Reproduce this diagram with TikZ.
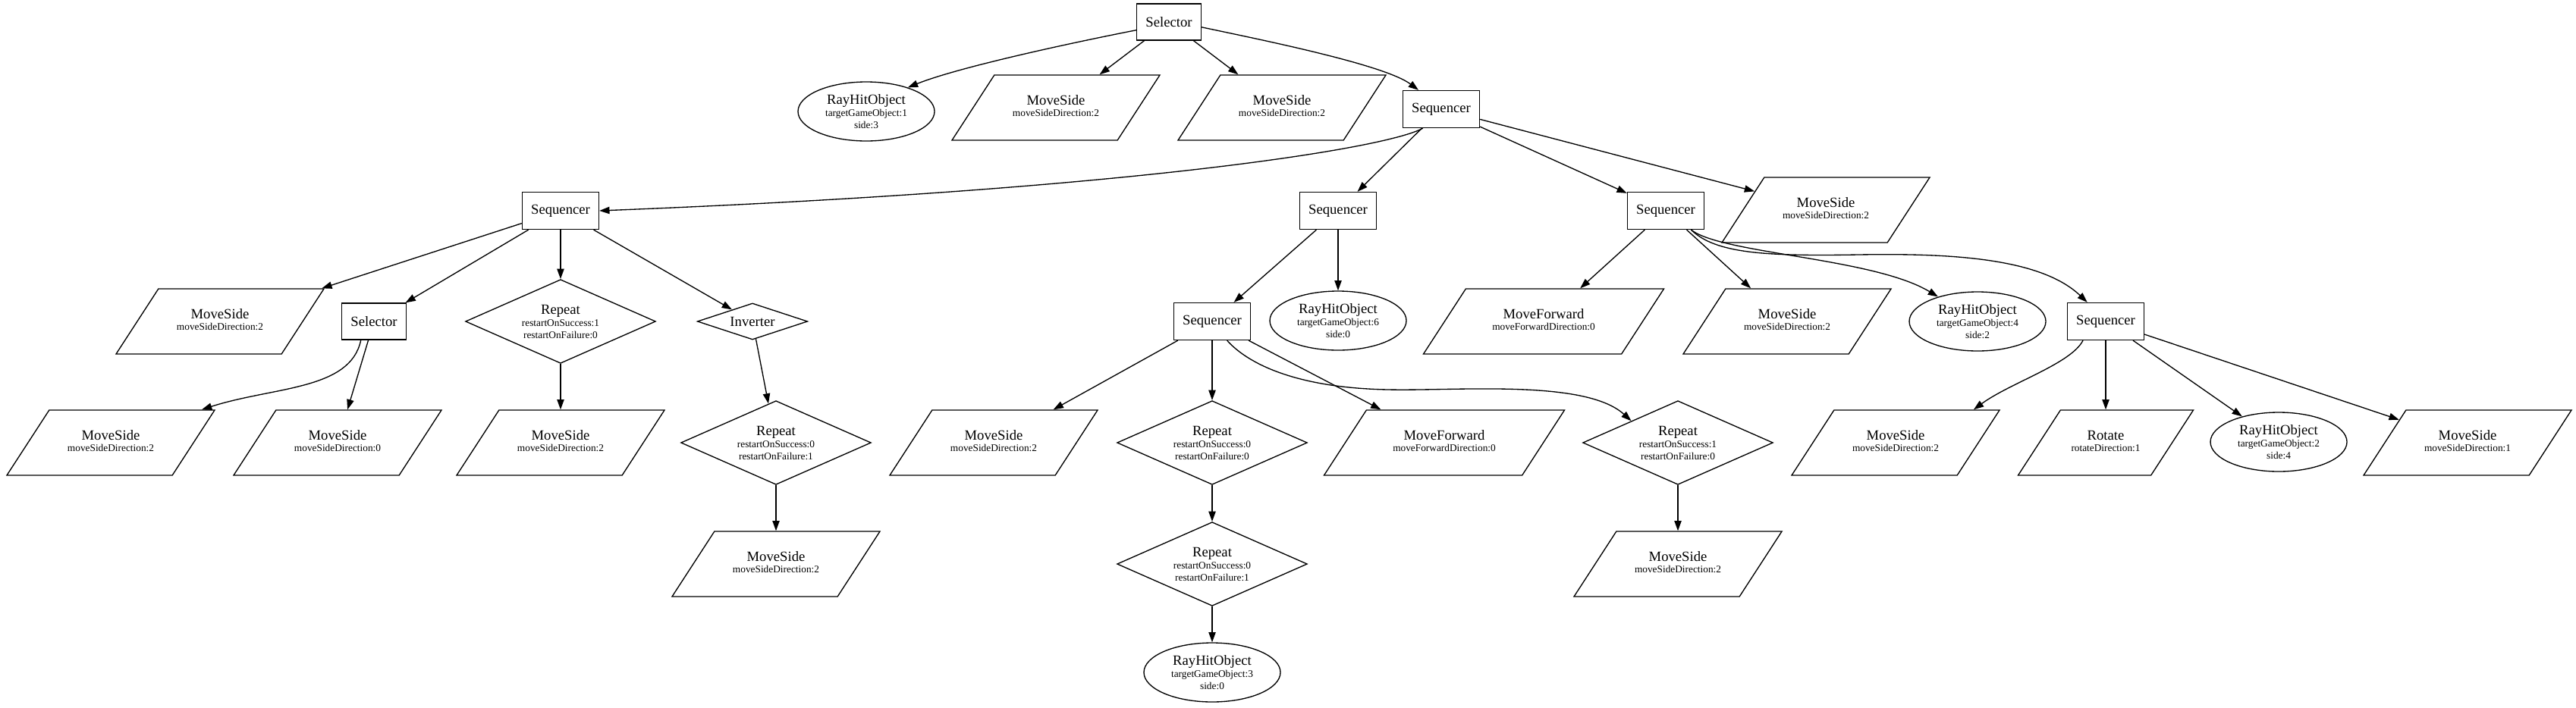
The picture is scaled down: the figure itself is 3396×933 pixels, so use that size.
\documentclass[tikz,border=0pt]{standalone}
\usepackage{fontspec}
\setmainfont{Liberation Serif}
\usetikzlibrary{shapes.geometric,arrows.meta}
\newcommand\bigtxt{\fontsize{14}{15}\selectfont}
\newcommand\smalltxt{\fontsize{10}{10.5}\selectfont}
\newcommand\ptext[2]{\begin{tabular}{@{}c@{}}\bigtxt #1\\[-0.5pt]\smalltxt #2\end{tabular}}
\tikzset{
  nd/.style={draw, line width=1pt, inner sep=0pt, align=center},
  boxn/.style={nd, rectangle, minimum width=75.75pt, minimum height=36.75pt, font=\bigtxt},
  selb/.style={nd, rectangle, minimum width=63.75pt, minimum height=36pt, font=\bigtxt},
  para/.style={nd, trapezium, trapezium left angle=57, trapezium right angle=123,
    trapezium stretches body, text height=34.75pt, text depth=29.75pt,
    minimum width=205.5pt},
  ell/.style={nd, ellipse, minimum width=135pt, minimum height=58.5pt},
  dia/.style={nd, diamond, aspect=2.26, minimum width=188pt, minimum height=83pt},
  invd/.style={nd, diamond, aspect=3, minimum width=109pt, minimum height=36pt, font=\bigtxt},
  arr/.style={-{Triangle[length=10pt,width=7pt]}, line width=1pt}
}
\begin{document}
\begin{tikzpicture}[x=0.75pt,y=-0.75pt]
\useasboundingbox (0,0) rectangle (3396,933);
% row 0
\node[selb] (sel0) at (1541,29) {Selector};
% row 1
\node[ell] (rh1) at (1142,147) {\bigtxt RayHitObject\\\smalltxt targetGameObject:1\\side:3};
\node[para] (ms1) at (1392,142) {\ptext{MoveSide}{moveSideDirection:2}};
\node[para] (ms2) at (1690,142) {\ptext{MoveSide}{moveSideDirection:2}};
\node[boxn] (seq1) at (1900,144) {Sequencer};
% row 2
\node[boxn] (seqL) at (739,278) {Sequencer};
\node[boxn] (seqM) at (1764,278) {Sequencer};
\node[boxn] (seqR) at (2196,278) {Sequencer};
\node[para] (msTR) at (2407,277) {\ptext{MoveSide}{moveSideDirection:2}};
% row 3
\node[para] (ms3) at (290,424) {\ptext{MoveSide}{moveSideDirection:2}};
\node[selb] (sel2) at (493,424) {Selector};
\node[dia] (rep1) at (739,424) {\bigtxt Repeat\\\smalltxt restartOnSuccess:1\\restartOnFailure:0};
\node[invd] (inv) at (992,424) {Inverter};
\node[boxn] (seqMM) at (1598,424) {Sequencer};
\node[ell] (rh6) at (1764,423) {\bigtxt RayHitObject\\\smalltxt targetGameObject:6\\side:0};
\node[para, minimum width=237.75pt] (mf1) at (2035,424) {\ptext{MoveForward}{moveForwardDirection:0}};
\node[para] (ms4) at (2356,424) {\ptext{MoveSide}{moveSideDirection:2}};
\node[ell] (rh4) at (2607,424) {\bigtxt RayHitObject\\\smalltxt targetGameObject:4\\side:2};
\node[boxn] (seqRR) at (2776,424) {Sequencer};
% row 4
\node[para] (ms5) at (146,584) {\ptext{MoveSide}{moveSideDirection:2}};
\node[para] (ms6) at (445,584) {\ptext{MoveSide}{moveSideDirection:0}};
\node[para] (ms7) at (739,584) {\ptext{MoveSide}{moveSideDirection:2}};
\node[dia] (rep2) at (1023,584) {\bigtxt Repeat\\\smalltxt restartOnSuccess:0\\restartOnFailure:1};
\node[para] (ms8) at (1310,584) {\ptext{MoveSide}{moveSideDirection:2}};
\node[dia] (rep3) at (1598,584) {\bigtxt Repeat\\\smalltxt restartOnSuccess:0\\restartOnFailure:0};
\node[para, minimum width=237.75pt] (mf2) at (1904,584) {\ptext{MoveForward}{moveForwardDirection:0}};
\node[dia] (rep4) at (2212,584) {\bigtxt Repeat\\\smalltxt restartOnSuccess:1\\restartOnFailure:0};
\node[para] (ms9) at (2499,584) {\ptext{MoveSide}{moveSideDirection:2}};
\node[para, minimum width=173.25pt] (rot) at (2776,584) {\ptext{Rotate}{rotateDirection:1}};
\node[ell] (rh2) at (3004,583) {\bigtxt RayHitObject\\\smalltxt targetGameObject:2\\side:4};
\node[para] (ms10) at (3253,584) {\ptext{MoveSide}{moveSideDirection:1}};
% row 5
\node[para] (ms11) at (1023,744) {\ptext{MoveSide}{moveSideDirection:2}};
\node[dia] (rep5) at (1598,744) {\bigtxt Repeat\\\smalltxt restartOnSuccess:0\\restartOnFailure:1};
\node[para] (ms12) at (2212,744) {\ptext{MoveSide}{moveSideDirection:2}};
% row 6
\node[ell] (rh3) at (1598,887) {\bigtxt RayHitObject\\\smalltxt targetGameObject:3\\side:0};
% edges
\draw[arr] (sel0.194) .. controls (1420,55) and (1265,88) .. (rh1.30);
\draw[arr] (sel0) -- (ms1);
\draw[arr] (sel0) -- (ms2);
\draw[arr] (sel0.-9) .. controls (1660,52) and (1825,85) .. (seq1.140);
\draw[arr] (seq1.-134) .. controls (1830,195) and (1500,250) .. (seqL.east);
\draw[arr] (seq1) -- (seqM);
\draw[arr] (seq1) -- (seqR);
\draw[arr] (seq1) -- (msTR);
\draw[arr] (seqL) -- (ms3);
\draw[arr] (seqL) -- (sel2);
\draw[arr] (seqL) -- (rep1);
\draw[arr] (seqL) -- (inv);
\draw[arr] (sel2.-125) .. controls (462,515) and (360,510) .. (ms5.20);
\draw[arr] (sel2) -- (ms6);
\draw[arr] (rep1) -- (ms7);
\draw[arr] (inv) -- (rep2);
\draw[arr] (rep2) -- (ms11);
\draw[arr] (seqM) -- (seqMM);
\draw[arr] (seqM) -- (rh6);
\draw[arr] (seqR) -- (mf1);
\draw[arr] (seqR) -- (ms4);
\draw[arr] (seqR.-37) .. controls (2270,335) and (2470,340) .. (rh4.148);
\draw[arr] (seqR.-37) .. controls (2262,335) and (2330,338) .. (2450,336)
  .. controls (2570,334) and (2690,340) .. (seqRR.134);
\draw[arr] (seqMM) -- (ms8);
\draw[arr] (seqMM) -- (rep3);
\draw[arr] (seqMM) -- (mf2);
\draw[arr] (seqMM.-52) .. controls (1650,485) and (1720,512) .. (1830,514)
  .. controls (1920,516) and (2090,500) .. (rep4.155);
\draw[arr] (rep3) -- (rep5);
\draw[arr] (rep5) -- (rh3);
\draw[arr] (rep4) -- (ms12);
\draw[arr] (seqRR.-140) .. controls (2730,480) and (2650,505) .. (ms9.23);
\draw[arr] (seqRR) -- (rot);
\draw[arr] (seqRR) -- (rh2);
\draw[arr] (seqRR) -- (ms10);
\end{tikzpicture}
\end{document}
